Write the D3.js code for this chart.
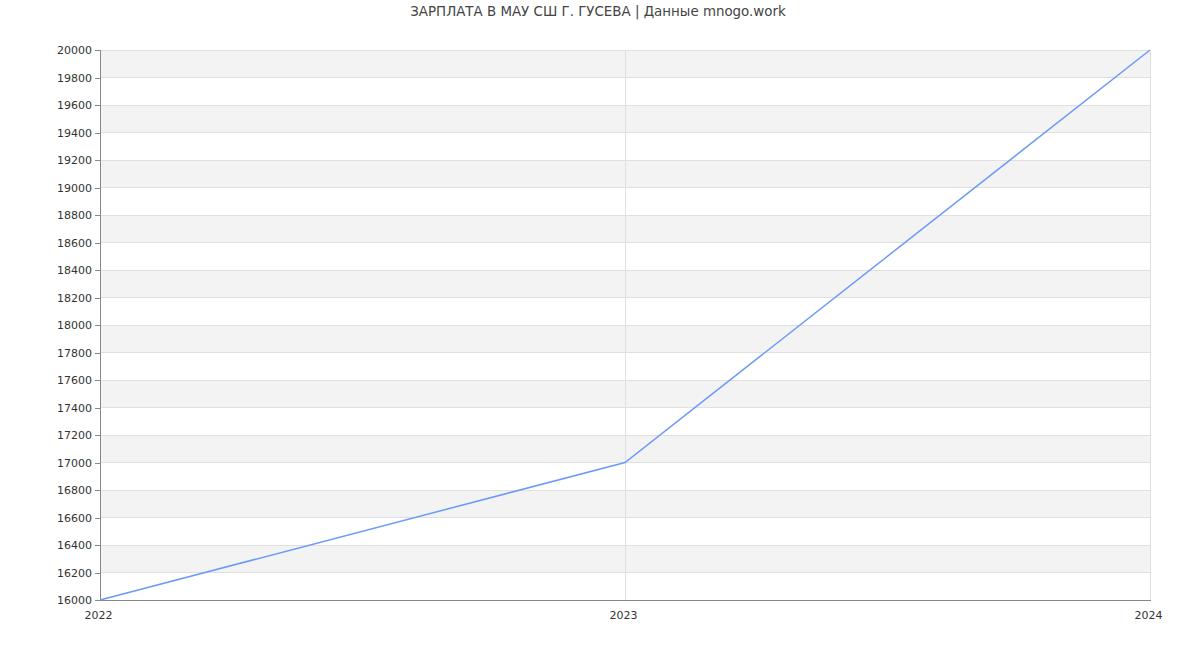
<!DOCTYPE html>
<html><head><meta charset="utf-8">
<script src="https://cdn.jsdelivr.net/npm/d3@7"></script>
<style>body{margin:0;background:#fff;font-family:"DejaVu Sans",sans-serif;}</style>
</head><body>
<svg id="c" width="1200" height="650"></svg>
<script>
const title = "ЗАРПЛАТА В МАУ СШ Г. ГУСЕВА | Данные mnogo.work";
const years = ["2022", "2023", "2024"];
const salary = [16000, 17000, 20000];
const yTicks = d3.range(16000, 20001, 200);

const svg = d3.select("#c");
const m = {l:100, r:1150, t:50, b:600};
const x = d3.scalePoint().domain(years).range([m.l, m.r]);
const y = d3.scaleLinear().domain([16000, 20000]).range([m.b, m.t]);

// bands
const bands = yTicks.slice(0, -1).filter(v => (v/200) % 2 === 1);
svg.append("g").selectAll("rect").data(bands).join("rect")
  .attr("x", m.l).attr("width", m.r - m.l)
  .attr("y", d => y(d + 200)).attr("height", d => y(d) - y(d + 200))
  .attr("fill", "#f3f3f3");
// horizontal grid
svg.append("g").selectAll("line").data(yTicks).join("line")
  .attr("x1", m.l).attr("x2", m.r).attr("y1", d => y(d)).attr("y2", d => y(d))
  .attr("stroke", "#e0e0e0").attr("stroke-width", 1).attr("shape-rendering", "crispEdges");
// vertical grid
svg.append("g").selectAll("line").data(years.slice(1)).join("line")
  .attr("x1", d => x(d)).attr("x2", d => x(d)).attr("y1", m.t).attr("y2", m.b)
  .attr("stroke", "#e0e0e0").attr("stroke-width", 1).attr("shape-rendering", "crispEdges");

// y axis
const ya = svg.append("g").attr("transform", `translate(${m.l},0)`)
  .call(d3.axisLeft(y).tickValues(yTicks).tickSize(5).tickPadding(3).tickFormat(d3.format("d")));
ya.select(".domain").attr("stroke", "#888").attr("shape-rendering", "crispEdges");
ya.selectAll(".tick line").attr("stroke", "#888").attr("shape-rendering", "crispEdges");
ya.selectAll("text").attr("fill", "#333").style("font-family", "DejaVu Sans").style("font-size", "11px");

// x axis
const xa = svg.append("g").attr("transform", `translate(0,${m.b})`)
  .call(d3.axisBottom(x).tickSize(0).tickPadding(11));
xa.select(".domain").attr("stroke", "#888").attr("shape-rendering", "crispEdges");
xa.selectAll("text").attr("fill", "#333").attr("dx", -2).style("font-family", "DejaVu Sans").style("font-size", "11px");

// line
svg.append("path").datum(years.map((yr, i) => [yr, salary[i]]))
  .attr("fill", "none").attr("stroke", "#6d9af5").attr("stroke-width", 1.5)
  .attr("d", d3.line().x(d => x(d[0])).y(d => y(d[1])));

svg.append("text").attr("x", 598).attr("y", 16).attr("text-anchor", "middle")
  .attr("fill", "#444").style("font-family", "DejaVu Sans").style("font-size", "13.4px")
  .text(title);
</script>
</body></html>
